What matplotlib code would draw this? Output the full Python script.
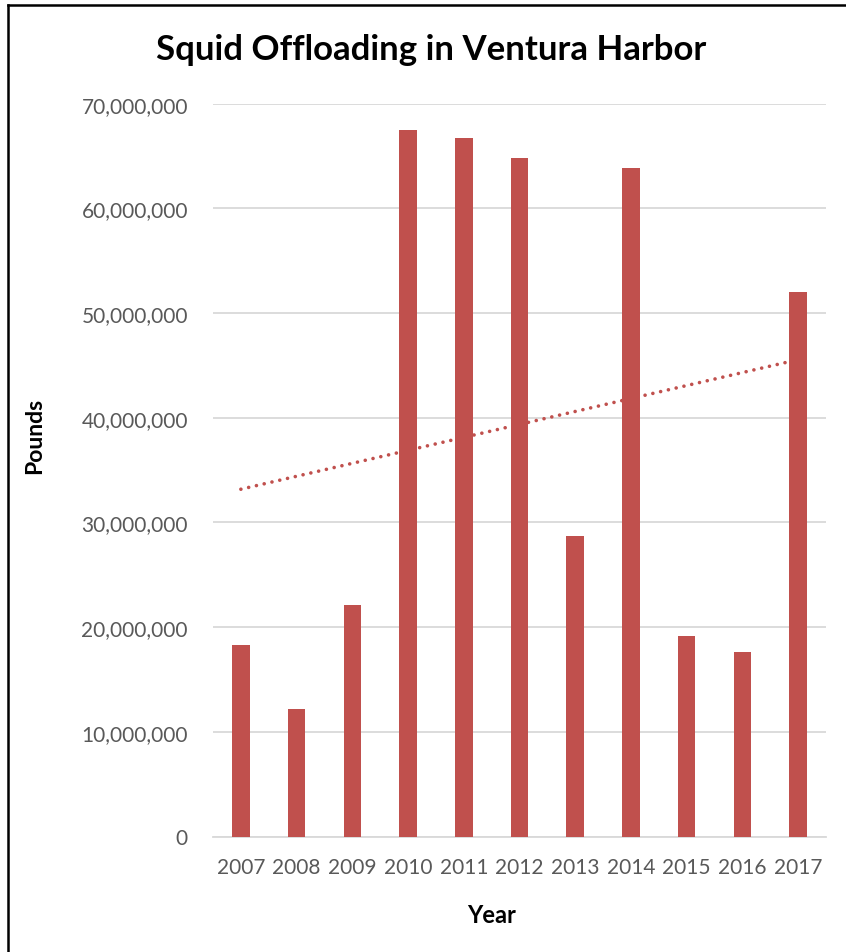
import numpy as np
import matplotlib.pyplot as plt
from matplotlib.lines import Line2D
from matplotlib.ticker import FuncFormatter

years = ['2007', '2008', '2009', '2010', '2011', '2012', '2013', '2014', '2015', '2016', '2017']
pounds = [18.3e6, 12.2e6, 22.1e6, 67.5e6, 66.7e6, 64.8e6, 28.7e6, 63.9e6, 19.2e6, 17.6e6, 52.0e6]

bar_color = '#C0504D'
grid_color = '#D9D9D9'
text_gray = '#595959'

plt.rcParams['font.family'] = ['Lato', 'DejaVu Sans']

fig = plt.figure(figsize=(8.46, 9.53), dpi=100)
ax = fig.add_axes([213 / 846, 115.5 / 953, 613 / 846, 732.8 / 953])

x = np.arange(len(years))
ax.bar(x, pounds, width=0.314, color=bar_color, zorder=3)

# linear trendline, like Excel's
slope, intercept = np.polyfit(x, pounds, 1)
ax.plot(x, slope * x + intercept, color=bar_color, linewidth=2.6,
        linestyle=(0, (0.01, 2.2)), dash_capstyle='round', zorder=2)

ax.set_xlim(-0.5, len(years) - 0.5)
ax.set_ylim(0, 70e6)
ax.set_yticks(np.arange(0, 70e6 + 1, 10e6))
ax.yaxis.set_major_formatter(FuncFormatter(lambda v, p: f'{int(v):,}'))
ax.set_xticks(x)
ax.set_xticklabels(years)

ax.grid(axis='y', color=grid_color, linewidth=1.3, zorder=0)
ax.set_axisbelow(True)
for side in ['top', 'right', 'left']:
    ax.spines[side].set_visible(False)
ax.spines['bottom'].set_color(grid_color)
ax.spines['bottom'].set_linewidth(1.3)

ax.tick_params(axis='y', length=0, pad=18, labelsize=15, labelcolor=text_gray)
ax.tick_params(axis='x', length=0, pad=15, labelsize=15, labelcolor=text_gray)

fig.text(431 / 846, 1 - 50 / 953, 'Squid Offloading in Ventura Harbor',
         ha='center', va='center', fontsize=25, fontweight='bold', color='black')
fig.text(35 / 846, 1 - 436 / 953, 'Pounds', rotation=90, ha='center', va='center',
         fontsize=16.5, fontweight='bold', color='black')
fig.text(492 / 846, 1 - 916 / 953, 'Year', ha='center', va='center',
         fontsize=17, fontweight='bold', color='black')

# outer frame (only top and left edges show in the reference)
fig.add_artist(Line2D([8 / 846, 1.0], [1 - 6 / 953, 1 - 6 / 953], color='black', linewidth=1.8,
                      transform=fig.transFigure))
fig.add_artist(Line2D([8 / 846, 8 / 846], [0.0, 1 - 6 / 953], color='black', linewidth=1.8,
                      transform=fig.transFigure))

fig.savefig('out.png', dpi=100)
